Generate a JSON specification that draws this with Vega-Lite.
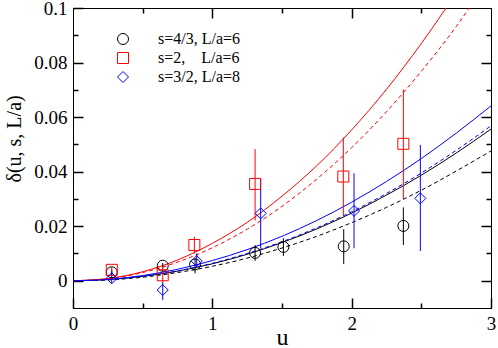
{
  "$schema": "https://vega.github.io/schema/vega-lite/v6.json",
  "width": 418,
  "height": 300,
  "autosize": "none",
  "padding": {"left": 73, "top": 8, "right": 7, "bottom": 40},
  "background": "white",
  "config": {
    "view": {"stroke": "black", "strokeWidth": 1},
    "axis": {"labelFont": "Liberation Serif", "titleFont": "Liberation Serif", "labelColor": "black", "titleColor": "black", "titleFontWeight": "normal", "grid": false}
  },
  "datasets": {
    "curves": [
      {"series": "s=4/3, L/a=6", "style": "solid", "u": 0, "d": 0},
      {"series": "s=4/3, L/a=6", "style": "solid", "u": 0.25, "d": 0.0004},
      {"series": "s=4/3, L/a=6", "style": "solid", "u": 0.5, "d": 0.0016},
      {"series": "s=4/3, L/a=6", "style": "solid", "u": 0.75, "d": 0.0035},
      {"series": "s=4/3, L/a=6", "style": "solid", "u": 1.0, "d": 0.0062},
      {"series": "s=4/3, L/a=6", "style": "solid", "u": 1.25, "d": 0.0097},
      {"series": "s=4/3, L/a=6", "style": "solid", "u": 1.5, "d": 0.0140},
      {"series": "s=4/3, L/a=6", "style": "solid", "u": 1.75, "d": 0.0190},
      {"series": "s=4/3, L/a=6", "style": "solid", "u": 2.0, "d": 0.0248},
      {"series": "s=4/3, L/a=6", "style": "solid", "u": 2.25, "d": 0.0314},
      {"series": "s=4/3, L/a=6", "style": "solid", "u": 2.5, "d": 0.0387},
      {"series": "s=4/3, L/a=6", "style": "solid", "u": 2.75, "d": 0.0468},
      {"series": "s=4/3, L/a=6", "style": "solid", "u": 3.0, "d": 0.0556},
      {"series": "s=4/3, L/a=6", "style": "dashed", "u": 0, "d": 0},
      {"series": "s=4/3, L/a=6", "style": "dashed", "u": 0.25, "d": 0.0003},
      {"series": "s=4/3, L/a=6", "style": "dashed", "u": 0.5, "d": 0.0013},
      {"series": "s=4/3, L/a=6", "style": "dashed", "u": 0.75, "d": 0.0030},
      {"series": "s=4/3, L/a=6", "style": "dashed", "u": 1.0, "d": 0.0053},
      {"series": "s=4/3, L/a=6", "style": "dashed", "u": 1.25, "d": 0.0083},
      {"series": "s=4/3, L/a=6", "style": "dashed", "u": 1.5, "d": 0.0120},
      {"series": "s=4/3, L/a=6", "style": "dashed", "u": 1.75, "d": 0.0163},
      {"series": "s=4/3, L/a=6", "style": "dashed", "u": 2.0, "d": 0.0213},
      {"series": "s=4/3, L/a=6", "style": "dashed", "u": 2.25, "d": 0.0269},
      {"series": "s=4/3, L/a=6", "style": "dashed", "u": 2.5, "d": 0.0332},
      {"series": "s=4/3, L/a=6", "style": "dashed", "u": 2.75, "d": 0.0402},
      {"series": "s=4/3, L/a=6", "style": "dashed", "u": 3.0, "d": 0.0476},
      {"series": "s=2,\u00a0\u00a0\u00a0\u00a0L/a=6", "style": "solid", "u": 0, "d": 0},
      {"series": "s=2,\u00a0\u00a0\u00a0\u00a0L/a=6", "style": "solid", "u": 0.25, "d": 0.0008},
      {"series": "s=2,\u00a0\u00a0\u00a0\u00a0L/a=6", "style": "solid", "u": 0.5, "d": 0.0033},
      {"series": "s=2,\u00a0\u00a0\u00a0\u00a0L/a=6", "style": "solid", "u": 0.75, "d": 0.0076},
      {"series": "s=2,\u00a0\u00a0\u00a0\u00a0L/a=6", "style": "solid", "u": 1.0, "d": 0.0137},
      {"series": "s=2,\u00a0\u00a0\u00a0\u00a0L/a=6", "style": "solid", "u": 1.25, "d": 0.0214},
      {"series": "s=2,\u00a0\u00a0\u00a0\u00a0L/a=6", "style": "solid", "u": 1.5, "d": 0.0310},
      {"series": "s=2,\u00a0\u00a0\u00a0\u00a0L/a=6", "style": "solid", "u": 1.75, "d": 0.0422},
      {"series": "s=2,\u00a0\u00a0\u00a0\u00a0L/a=6", "style": "solid", "u": 2.0, "d": 0.0553},
      {"series": "s=2,\u00a0\u00a0\u00a0\u00a0L/a=6", "style": "solid", "u": 2.25, "d": 0.0702},
      {"series": "s=2,\u00a0\u00a0\u00a0\u00a0L/a=6", "style": "solid", "u": 2.5, "d": 0.0870},
      {"series": "s=2,\u00a0\u00a0\u00a0\u00a0L/a=6", "style": "solid", "u": 2.75, "d": 0.1055},
      {"series": "s=2,\u00a0\u00a0\u00a0\u00a0L/a=6", "style": "dashed", "u": 0, "d": 0},
      {"series": "s=2,\u00a0\u00a0\u00a0\u00a0L/a=6", "style": "dashed", "u": 0.25, "d": 0.0007},
      {"series": "s=2,\u00a0\u00a0\u00a0\u00a0L/a=6", "style": "dashed", "u": 0.5, "d": 0.0030},
      {"series": "s=2,\u00a0\u00a0\u00a0\u00a0L/a=6", "style": "dashed", "u": 0.75, "d": 0.0068},
      {"series": "s=2,\u00a0\u00a0\u00a0\u00a0L/a=6", "style": "dashed", "u": 1.0, "d": 0.0121},
      {"series": "s=2,\u00a0\u00a0\u00a0\u00a0L/a=6", "style": "dashed", "u": 1.25, "d": 0.0189},
      {"series": "s=2,\u00a0\u00a0\u00a0\u00a0L/a=6", "style": "dashed", "u": 1.5, "d": 0.0273},
      {"series": "s=2,\u00a0\u00a0\u00a0\u00a0L/a=6", "style": "dashed", "u": 1.75, "d": 0.0373},
      {"series": "s=2,\u00a0\u00a0\u00a0\u00a0L/a=6", "style": "dashed", "u": 2.0, "d": 0.0488},
      {"series": "s=2,\u00a0\u00a0\u00a0\u00a0L/a=6", "style": "dashed", "u": 2.25, "d": 0.0620},
      {"series": "s=2,\u00a0\u00a0\u00a0\u00a0L/a=6", "style": "dashed", "u": 2.5, "d": 0.0768},
      {"series": "s=2,\u00a0\u00a0\u00a0\u00a0L/a=6", "style": "dashed", "u": 2.75, "d": 0.0932},
      {"series": "s=2,\u00a0\u00a0\u00a0\u00a0L/a=6", "style": "dashed", "u": 3.0, "d": 0.1120},
      {"series": "s=3/2, L/a=8", "style": "solid", "u": 0, "d": 0},
      {"series": "s=3/2, L/a=8", "style": "solid", "u": 0.25, "d": 0.0005},
      {"series": "s=3/2, L/a=8", "style": "solid", "u": 0.5, "d": 0.0019},
      {"series": "s=3/2, L/a=8", "style": "solid", "u": 0.75, "d": 0.0042},
      {"series": "s=3/2, L/a=8", "style": "solid", "u": 1.0, "d": 0.0074},
      {"series": "s=3/2, L/a=8", "style": "solid", "u": 1.25, "d": 0.0114},
      {"series": "s=3/2, L/a=8", "style": "solid", "u": 1.5, "d": 0.0163},
      {"series": "s=3/2, L/a=8", "style": "solid", "u": 1.75, "d": 0.0221},
      {"series": "s=3/2, L/a=8", "style": "solid", "u": 2.0, "d": 0.0288},
      {"series": "s=3/2, L/a=8", "style": "solid", "u": 2.25, "d": 0.0364},
      {"series": "s=3/2, L/a=8", "style": "solid", "u": 2.5, "d": 0.0448},
      {"series": "s=3/2, L/a=8", "style": "solid", "u": 2.75, "d": 0.0541},
      {"series": "s=3/2, L/a=8", "style": "solid", "u": 3.0, "d": 0.0641},
      {"series": "s=3/2, L/a=8", "style": "dashed", "u": 0, "d": 0},
      {"series": "s=3/2, L/a=8", "style": "dashed", "u": 0.25, "d": 0.0004},
      {"series": "s=3/2, L/a=8", "style": "dashed", "u": 0.5, "d": 0.0016},
      {"series": "s=3/2, L/a=8", "style": "dashed", "u": 0.75, "d": 0.0036},
      {"series": "s=3/2, L/a=8", "style": "dashed", "u": 1.0, "d": 0.0064},
      {"series": "s=3/2, L/a=8", "style": "dashed", "u": 1.25, "d": 0.0100},
      {"series": "s=3/2, L/a=8", "style": "dashed", "u": 1.5, "d": 0.0143},
      {"series": "s=3/2, L/a=8", "style": "dashed", "u": 1.75, "d": 0.0194},
      {"series": "s=3/2, L/a=8", "style": "dashed", "u": 2.0, "d": 0.0253},
      {"series": "s=3/2, L/a=8", "style": "dashed", "u": 2.25, "d": 0.0320},
      {"series": "s=3/2, L/a=8", "style": "dashed", "u": 2.5, "d": 0.0395},
      {"series": "s=3/2, L/a=8", "style": "dashed", "u": 2.75, "d": 0.0478},
      {"series": "s=3/2, L/a=8", "style": "dashed", "u": 3.0, "d": 0.0568}
    ],
    "points": [
      {"series": "s=4/3, L/a=6", "u": 0.278, "d": 0.0031, "lo": 0.0021, "hi": 0.0041},
      {"series": "s=4/3, L/a=6", "u": 0.644, "d": 0.0055, "lo": 0.0045, "hi": 0.0065},
      {"series": "s=4/3, L/a=6", "u": 0.876, "d": 0.0060, "lo": 0.0027, "hi": 0.0082},
      {"series": "s=4/3, L/a=6", "u": 1.307, "d": 0.0102, "lo": 0.0073, "hi": 0.0131},
      {"series": "s=4/3, L/a=6", "u": 1.51, "d": 0.0124, "lo": 0.0091, "hi": 0.0156},
      {"series": "s=4/3, L/a=6", "u": 1.943, "d": 0.0126, "lo": 0.0061, "hi": 0.0189},
      {"series": "s=4/3, L/a=6", "u": 2.371, "d": 0.0201, "lo": 0.0131, "hi": 0.0269},
      {"series": "s=2,\u00a0\u00a0\u00a0\u00a0L/a=6", "u": 0.278, "d": 0.0040, "lo": 0.0030, "hi": 0.0050},
      {"series": "s=2,\u00a0\u00a0\u00a0\u00a0L/a=6", "u": 0.644, "d": 0.0020, "lo": -0.0004, "hi": 0.0051},
      {"series": "s=2,\u00a0\u00a0\u00a0\u00a0L/a=6", "u": 0.871, "d": 0.0131, "lo": 0.0100, "hi": 0.0161},
      {"series": "s=2,\u00a0\u00a0\u00a0\u00a0L/a=6", "u": 1.307, "d": 0.0355, "lo": 0.0221, "hi": 0.0483},
      {"series": "s=2,\u00a0\u00a0\u00a0\u00a0L/a=6", "u": 1.940, "d": 0.0382, "lo": 0.0241, "hi": 0.0525},
      {"series": "s=2,\u00a0\u00a0\u00a0\u00a0L/a=6", "u": 2.371, "d": 0.0502, "lo": 0.0300, "hi": 0.0702},
      {"series": "s=3/2, L/a=8", "u": 0.278, "d": 0.0009, "lo": -0.0010, "hi": 0.0033},
      {"series": "s=3/2, L/a=8", "u": 0.644, "d": -0.0034, "lo": -0.0071, "hi": -0.0004},
      {"series": "s=3/2, L/a=8", "u": 0.888, "d": 0.0072, "lo": 0.0051, "hi": 0.0100},
      {"series": "s=3/2, L/a=8", "u": 1.347, "d": 0.0247, "lo": 0.0119, "hi": 0.0376},
      {"series": "s=3/2, L/a=8", "u": 2.017, "d": 0.0256, "lo": 0.0119, "hi": 0.0394},
      {"series": "s=3/2, L/a=8", "u": 2.493, "d": 0.0302, "lo": 0.0109, "hi": 0.0498}
    ]
  },
  "layer": [
    {
      "data": {"name": "curves"},
      "transform": [{"filter": "datum.style == 'solid'"}],
      "mark": {"type": "line", "strokeWidth": 1, "clip": true, "interpolate": "monotone"},
      "encoding": {
        "x": {"field": "u", "type": "quantitative", "scale": {"domain": [0, 3], "nice": false, "zero": false},
          "axis": {"orient": "bottom", "values": [0, 1, 2, 3], "tickColor": "#000000", "tickWidth": 1.5, "domainColor": "#000000", "tickSize": -10, "labelPadding": 16, "labelFontSize": 19, "labelFlush": false, "title": "u", "titleFontSize": 24, "titleY": 36, "titleBaseline": "alphabetic"}},
        "y": {"field": "d", "type": "quantitative", "scale": {"domain": [-0.01, 0.1], "nice": false, "zero": false},
          "axis": {"orient": "left", "values": [0, 0.02, 0.04, 0.06, 0.08, 0.1], "format": ".2~f", "tickColor": "#000000", "tickWidth": 1.5, "domainColor": "#000000", "tickSize": -10, "labelPadding": 16, "labelFontSize": 19, "labelFlush": false, "title": "δ(u, s, L/a)", "titleFontSize": 20, "titleX": -59, "titleY": 174, "titleAngle": -90, "titleBaseline": "middle", "titleAlign": "left"}},
        "color": {"field": "series", "type": "nominal", "scale": {"domain": ["s=4/3, L/a=6", "s=2,\u00a0\u00a0\u00a0\u00a0L/a=6", "s=3/2, L/a=8"], "range": ["black", "#ff0000", "#0000ff"]}}
      }
    },
    {
      "data": {"name": "curves"},
      "transform": [{"filter": "datum.style == 'dashed'"}],
      "mark": {"type": "line", "strokeWidth": 1, "clip": true, "interpolate": "monotone", "strokeDash": [4, 3]},
      "encoding": {
        "x": {"field": "u", "type": "quantitative", "scale": {"domain": [0, 3], "nice": false, "zero": false},
          "axis": {"orient": "bottom", "values": [0.5, 1.5, 2.5], "tickColor": "#000000", "tickWidth": 1.5, "domainColor": "#000000", "labels": false, "title": null, "tickSize": -5}},
        "y": {"field": "d", "type": "quantitative", "scale": {"domain": [-0.01, 0.1], "nice": false, "zero": false},
          "axis": {"orient": "left", "values": [0.01, 0.03, 0.05, 0.07, 0.09], "tickColor": "#000000", "tickWidth": 1.5, "domainColor": "#000000", "labels": false, "title": null, "tickSize": -5}},
        "color": {"field": "series", "type": "nominal"}
      }
    },
    {
      "data": {"name": "points"},
      "mark": {"type": "rule", "strokeWidth": 1},
      "encoding": {
        "x": {"field": "u", "type": "quantitative", "scale": {"domain": [0, 3], "nice": false, "zero": false},
          "axis": {"orient": "top", "values": [1, 2], "tickColor": "#000000", "tickWidth": 1.5, "domainColor": "#000000", "labels": false, "title": null, "tickSize": -10}},
        "y": {"field": "lo", "type": "quantitative", "scale": {"domain": [-0.01, 0.1], "nice": false, "zero": false},
          "axis": {"orient": "right", "values": [0, 0.02, 0.04, 0.06, 0.08], "tickColor": "#000000", "tickWidth": 1.5, "domainColor": "#000000", "labels": false, "title": null, "tickSize": -10}},
        "y2": {"field": "hi"},
        "color": {"field": "series", "type": "nominal"}
      }
    },
    {
      "data": {"name": "points"},
      "mark": {"type": "point", "filled": false, "strokeWidth": 1, "opacity": 1},
      "encoding": {
        "x": {"field": "u", "type": "quantitative", "scale": {"domain": [0, 3], "nice": false, "zero": false},
          "axis": {"orient": "top", "values": [0.5, 1.5, 2.5], "tickColor": "#000000", "tickWidth": 1.5, "domainColor": "#000000", "labels": false, "title": null, "tickSize": -5}},
        "y": {"field": "d", "type": "quantitative", "scale": {"domain": [-0.01, 0.1], "nice": false, "zero": false},
          "axis": {"orient": "right", "values": [0.01, 0.03, 0.05, 0.07, 0.09], "tickColor": "#000000", "tickWidth": 1.5, "domainColor": "#000000", "labels": false, "title": null, "tickSize": -5}},
        "size": {"field": "series", "type": "nominal", "scale": {"domain": ["s=4/3, L/a=6", "s=2,\u00a0\u00a0\u00a0\u00a0L/a=6", "s=3/2, L/a=8"], "range": [121, 121, 165]}, "legend": null},
        "color": {"field": "series", "type": "nominal",
          "legend": {"title": null, "orient": "none", "legendX": 42, "legendY": 23, "labelFont": "Liberation Serif", "labelFontSize": 16, "labelColor": "black", "symbolSize": 100, "rowPadding": 3, "labelOffset": 27, "symbolStrokeWidth": 1}},
        "shape": {"field": "series", "type": "nominal", "scale": {"domain": ["s=4/3, L/a=6", "s=2,\u00a0\u00a0\u00a0\u00a0L/a=6", "s=3/2, L/a=8"], "range": ["circle", "square", "diamond"]},
          "legend": {"title": null, "orient": "none", "legendX": 42, "legendY": 23, "labelFont": "Liberation Serif", "labelFontSize": 16, "labelColor": "black", "symbolSize": 100, "rowPadding": 3, "labelOffset": 27, "symbolStrokeWidth": 1}}
      }
    }
  ],
  "resolve": {"axis": {"x": "independent", "y": "independent"}}
}
